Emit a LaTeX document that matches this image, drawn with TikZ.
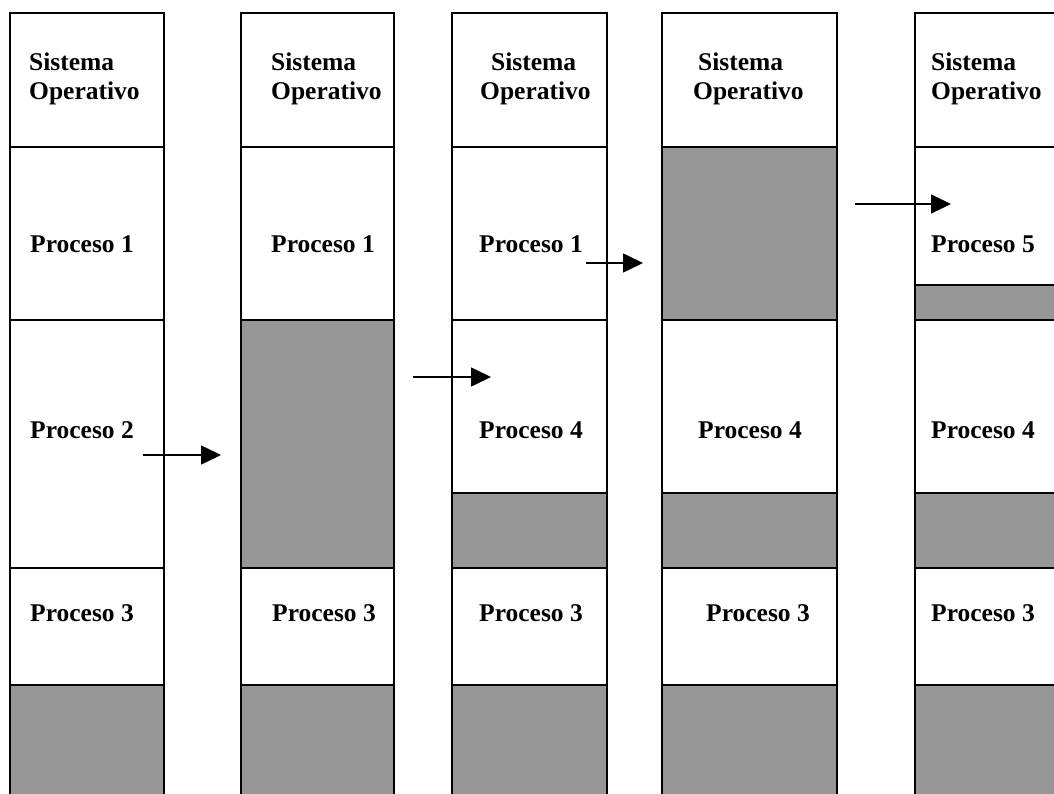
\documentclass[tikz,border=0pt]{standalone}
\usepackage{fontspec}
\setmainfont{Liberation Serif}
\usetikzlibrary{arrows.meta}
\definecolor{freeblk}{RGB}{150,150,150}
\begin{document}
\begin{tikzpicture}[x=1pt,y=-1pt,
  cell/.style={draw=black,line width=2pt,fill=white},
  hole/.style={draw=black,line width=2pt,fill=freeblk},
  lbl/.style={font=\fontsize{25.5}{29}\selectfont\bfseries,inner sep=0pt,anchor=base west},
  move/.style={line width=1.6pt,-{Triangle[length=20pt,width=19pt]}}]
\useasboundingbox (0,0) rectangle (1054,794);
\begin{scope}
\clip (0,0) rectangle (1054,794);
% memory map 1
\draw[cell] (10,13) rectangle (164,147);
\draw[cell] (10,147) rectangle (164,320);
\draw[cell] (10,320) rectangle (164,568);
\draw[cell] (10,568) rectangle (164,685);
\draw[hole] (10,685) rectangle (164,810);
% memory map 2
\draw[cell] (241,13) rectangle (394,147);
\draw[cell] (241,147) rectangle (394,320);
\draw[hole] (241,320) rectangle (394,568);
\draw[cell] (241,568) rectangle (394,685);
\draw[hole] (241,685) rectangle (394,810);
% memory map 3
\draw[cell] (452,13) rectangle (607,147);
\draw[cell] (452,147) rectangle (607,320);
\draw[cell] (452,320) rectangle (607,493);
\draw[hole] (452,493) rectangle (607,568);
\draw[cell] (452,568) rectangle (607,685);
\draw[hole] (452,685) rectangle (607,810);
% memory map 4
\draw[cell] (662,13) rectangle (837,147);
\draw[hole] (662,147) rectangle (837,320);
\draw[cell] (662,320) rectangle (837,493);
\draw[hole] (662,493) rectangle (837,568);
\draw[cell] (662,568) rectangle (837,685);
\draw[hole] (662,685) rectangle (837,810);
% memory map 5
\draw[cell] (915,13) rectangle (1070,147);
\draw[cell] (915,147) rectangle (1070,285);
\draw[hole] (915,285) rectangle (1070,320);
\draw[cell] (915,320) rectangle (1070,493);
\draw[hole] (915,493) rectangle (1070,568);
\draw[cell] (915,568) rectangle (1070,685);
\draw[hole] (915,685) rectangle (1070,810);
\end{scope}
% labels, map 1
\node[lbl] (a0) at (29,71) {Sistema};
\node[lbl] (a0b) at (29,100) {Operativo};
\node[lbl] (a1) at (30,253) {Proceso 1};
\node[lbl] (a2) at (30,438) {Proceso 2};
\node[lbl] (a3) at (30,621) {Proceso 3};
% labels, map 2
\node[lbl] (b0) at (271,71) {Sistema};
\node[lbl] (b0b) at (271,100) {Operativo};
\node[lbl] (b1) at (271,253) {Proceso 1};
\node[lbl] (b3) at (272,621) {Proceso 3};
% labels, map 3
\node[lbl] (c0) at (491,71) {Sistema};
\node[lbl] (c0b) at (480,100) {Operativo};
\node[lbl] (c1) at (479,253) {Proceso 1};
\node[lbl] (c4) at (479,438) {Proceso 4};
\node[lbl] (c3) at (479,621) {Proceso 3};
% labels, map 4
\node[lbl] (d0) at (698,71) {Sistema};
\node[lbl] (d0b) at (693,100) {Operativo};
\node[lbl] (d4) at (698,438) {Proceso 4};
\node[lbl] (d3) at (706,621) {Proceso 3};
% labels, map 5
\node[lbl] (e0) at (931,71) {Sistema};
\node[lbl] (e0b) at (931,100) {Operativo};
\node[lbl] (e5) at (931,253) {Proceso 5};
\node[lbl] (e4) at (931,438) {Proceso 4};
\node[lbl] (e3) at (931,621) {Proceso 3};
% transition arrows
\coordinate (m1s) at (143,455); \coordinate (m1e) at (221,455);
\coordinate (m2s) at (413,377); \coordinate (m2e) at (491,377);
\coordinate (m3s) at (586,263); \coordinate (m3e) at (643,263);
\coordinate (m4s) at (855,204); \coordinate (m4e) at (951,204);
\draw[move] (m1s) -- (m1e);
\draw[move] (m2s) -- (m2e);
\draw[move] (m3s) -- (m3e);
\draw[move] (m4s) -- (m4e);
\end{tikzpicture}
\end{document}
